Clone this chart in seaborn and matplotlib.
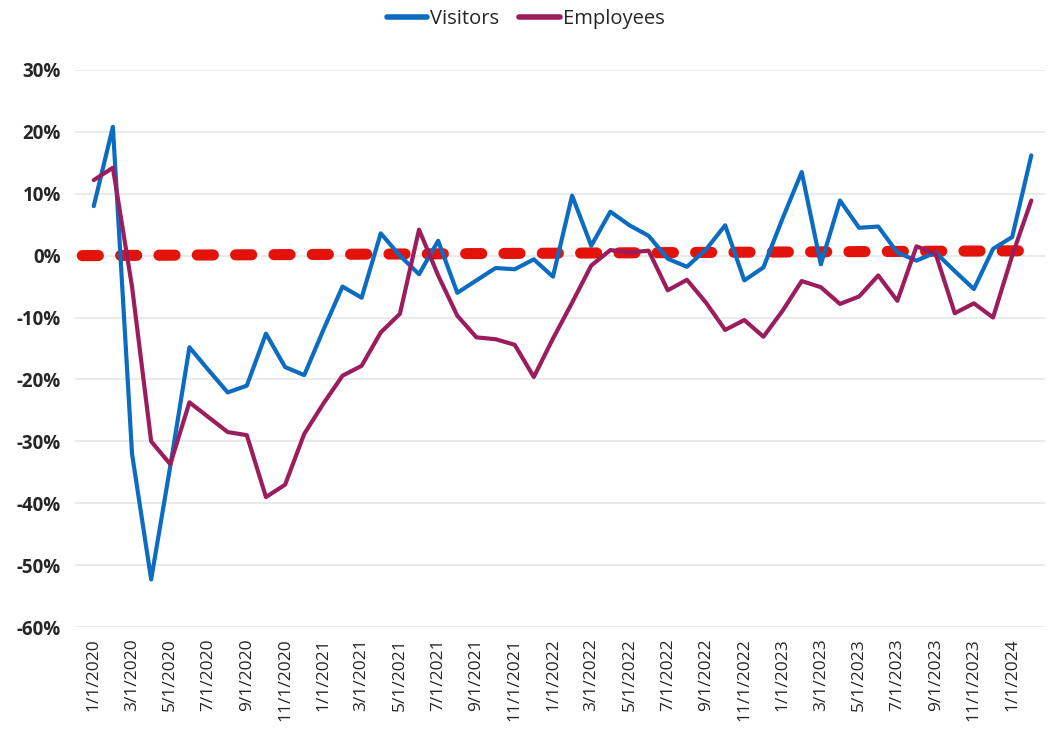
import matplotlib
matplotlib.use("Agg")
import matplotlib.pyplot as plt
import numpy as np
import pandas as pd
import seaborn as sns
from matplotlib.ticker import FuncFormatter

# monthly change, Jan 2020 .. Feb 2024 (percent)
months = pd.date_range("2020-01-01", "2024-02-01", freq="MS")
visitors = [8.0, 20.8, -32.0, -52.3, -34.0, -14.8, -18.5, -22.1, -21.0, -12.6,
            -18.0, -19.3, -12.0, -5.0, -6.8, 3.6, 0.0, -3.0, 2.4, -6.0,
            -4.0, -2.0, -2.2, -0.6, -3.4, 9.7, 1.6, 7.1, 4.9, 3.2,
            -0.5, -1.8, 1.0, 4.9, -4.0, -1.9, 6.0, 13.5, -1.4, 8.9,
            4.5, 4.7, 0.5, -0.8, 0.5, -2.5, -5.4, 1.1, 3.0, 16.2]
employees = [12.2, 14.2, -5.0, -30.0, -33.7, -23.7, -26.1, -28.5, -29.0, -39.0,
             -37.0, -28.8, -23.9, -19.4, -17.8, -12.4, -9.4, 4.2, -3.2, -9.7,
             -13.2, -13.5, -14.4, -19.6, -13.4, -7.6, -1.6, 0.9, 0.5, 0.8,
             -5.6, -3.9, -7.6, -12.0, -10.4, -13.1, -8.9, -4.1, -5.1, -7.8,
             -6.6, -3.2, -7.3, 1.5, 0.3, -9.3, -7.7, -10.0, 0.0, 8.9]
# dashed trend line end points (month index, percent)
trend_x = [-0.6, 49.4]
trend_y = [0.0, 0.8]

tick_labels = [f"{d.month}/{d.day}/{d.year}" for d in months]

df = pd.DataFrame({
    "idx": list(range(len(months))) * 2,
    "value": [v / 100 for v in visitors + employees],
    "series": ["Visitors"] * len(months) + ["Employees"] * len(months),
})

sns.set_style("white")
plt.rcParams["font.family"] = ["Open Sans", "DejaVu Sans"]

fig = plt.figure(figsize=(10.51, 7.36), dpi=100)
ax = fig.add_axes([0.071, 0.148, 0.923, 0.757])

ax.plot(trend_x, [v / 100 for v in trend_y], color="#e3120b", lw=8,
        linestyle=(0, (1.45, 2.0)), dash_capstyle="round", zorder=1)

sns.lineplot(
    data=df, x="idx", y="value", hue="series",
    palette={"Visitors": "#0b6cc2", "Employees": "#9b1d5c"},
    linewidth=3, sort=False, ax=ax, zorder=3, legend=True,
)

handles, labels = ax.get_legend_handles_labels()
ax.get_legend().remove()
for h in handles:
    h.set_linewidth(4)
fig.legend(handles, labels, loc="upper center", bbox_to_anchor=(0.5, 1.012),
           ncol=2, frameon=False, fontsize=14.5, handlelength=2.0,
           handletextpad=0.15, columnspacing=1.0)

ax.set_ylim(-0.6, 0.3)
ax.set_xlim(-1.0, 49.7)
ax.set_yticks(np.arange(-0.6, 0.31, 0.1))
ax.yaxis.set_major_formatter(FuncFormatter(lambda v, _: f"{round(v * 100):d}%"))
ax.set_xticks(range(0, len(months), 2))
ax.set_xticklabels(tick_labels[::2], rotation=90, fontsize=12.5)
ax.tick_params(axis="y", labelsize=13.5, pad=10, length=0)
ax.tick_params(axis="x", length=0, pad=8)
for lbl in ax.get_yticklabels():
    lbl.set_fontweight("bold")
ax.grid(axis="y", color="#e6e6e6", lw=1.2)
ax.set_axisbelow(True)
ax.set_xlabel("")
ax.set_ylabel("")
for s in ax.spines.values():
    s.set_visible(False)

fig.savefig("out.png", dpi=100)
